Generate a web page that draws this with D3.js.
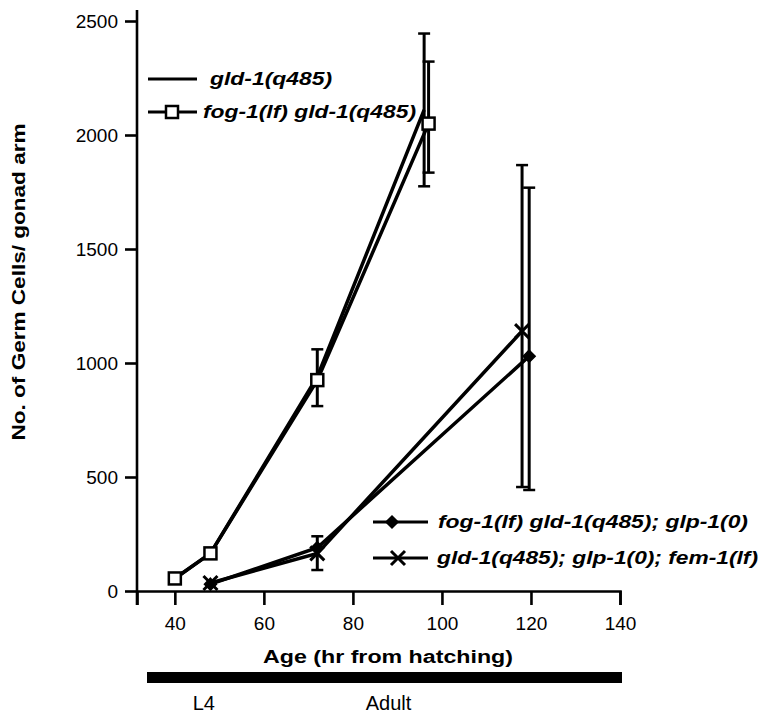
<!DOCTYPE html>
<html><head><meta charset="utf-8">
<script src="https://cdn.jsdelivr.net/npm/d3@7"></script>
<style>
body{margin:0;background:#fff;}
text{font-family:"Liberation Sans",Arial,Helvetica,sans-serif;fill:#000;}
</style></head>
<body><svg id="c" width="763" height="713"></svg>
<script>
// ---- data ----
const xTicks = [40,60,80,100,120,140];
const yTicks = [0,500,1000,1500,2000,2500];

const agesGld1 = [40,48,72,96];
const cellsGld1 = [55,165,940,2110];
const hiGld1 = [null,null,null,2445];
const loGld1 = [null,null,null,1775];

const agesFog = [40,48,72,97];
const cellsFog = [55,165,925,2050];
const hiFog = [null,null,1060,2322];
const loFog = [null,null,811,1835];

const agesFogGlp = [48,72,119.6];
const cellsFogGlp = [30,190,1030];
const hiFogGlp = [null,null,1769];
const loFogGlp = [null,null,443];

const agesFem = [48,72,118];
const cellsFem = [35,165,1140];
const hiFem = [null,240,1868];
const loFem = [null,92,456];

const seriesNames = ["gld-1(q485)","fog-1(lf) gld-1(q485)","fog-1(lf) gld-1(q485); glp-1(0)","gld-1(q485); glp-1(0); fem-1(lf)"];
const stageLabels = ["L4","Adult"];
const stageAges = [46.5,88];

const svg = d3.select("#c");
const x = d3.scaleLinear().domain([31.5,140]).range([137,620]);
const y = d3.scaleLinear().domain([0,2500]).range([591,21]);

// axes
const gx = svg.append("g").attr("transform","translate(0,591)")
  .call(d3.axisBottom(x).tickValues(xTicks).tickFormat(d3.format("d")).tickSizeInner(14).tickSizeOuter(14).tickPadding(6));
const gy = svg.append("g").attr("transform","translate(137,0)")
  .call(d3.axisLeft(y).tickValues(yTicks).tickFormat(d3.format("d")).tickSizeInner(12).tickSizeOuter(0).tickPadding(7));
gy.select(".domain").attr("d","M0,10V605");
[gx,gy].forEach(g=>{
  g.selectAll("path,line").attr("stroke","#000").attr("stroke-width",2.6);
  g.selectAll("text").attr("font-size",19).attr("fill","#000");
});
gx.selectAll(".tick text").attr("dy","1.0em");
gy.selectAll(".tick text").attr("dy","0.36em");

// axis titles
svg.append("text").attr("x",388).attr("y",663).attr("text-anchor","middle")
  .attr("font-size",18).attr("font-weight","bold")
  .attr("textLength",250).attr("lengthAdjust","spacingAndGlyphs").text("Age (hr from hatching)");
svg.append("text").attr("transform","translate(25,282) rotate(-90)").attr("text-anchor","middle")
  .attr("font-size",18).attr("font-weight","bold")
  .attr("textLength",317).attr("lengthAdjust","spacingAndGlyphs").text("No. of Germ Cells/ gonad arm");

// stage bar
svg.append("rect").attr("x",147).attr("y",672).attr("width",475).attr("height",11).attr("fill","#000");
svg.selectAll(".stage").data(stageLabels).enter().append("text")
  .attr("x",(d,i)=>x(stageAges[i])).attr("y",710).attr("text-anchor","middle").attr("font-size",20).text(d=>d);

const line = d3.line().x(d=>x(d[0])).y(d=>y(d[1]));
const allSeries = [
  {ages:agesGld1,cells:cellsGld1,hi:hiGld1,lo:loGld1,mark:"none"},
  {ages:agesFog,cells:cellsFog,hi:hiFog,lo:loFog,mark:"square"},
  {ages:agesFogGlp,cells:cellsFogGlp,hi:hiFogGlp,lo:loFogGlp,mark:"diamond"},
  {ages:agesFem,cells:cellsFem,hi:hiFem,lo:loFem,mark:"cross"}
];

function drawMarker(g,type,cx,cy){
  if(type==="square"){
    g.append("rect").attr("x",cx-6).attr("y",cy-6).attr("width",12).attr("height",12)
     .attr("fill","#fff").attr("stroke","#000").attr("stroke-width",2.5);
  } else if(type==="diamond"){
    g.append("path").attr("d",`M${cx},${cy-6}L${cx+6},${cy}L${cx},${cy+6}L${cx-6},${cy}Z`)
     .attr("fill","#000").attr("stroke","#000").attr("stroke-width",1.5);
  } else if(type==="cross"){
    g.append("path").attr("d",`M${cx-7},${cy-7}L${cx+7},${cy+7}M${cx-7},${cy+7}L${cx+7},${cy-7}`)
     .attr("stroke","#000").attr("stroke-width",3);
  }
}

allSeries.forEach(s=>{
  const pts = s.ages.map((a,i)=>[a,s.cells[i]]);
  const g = svg.append("g");
  s.ages.forEach((a,i)=>{
    if(s.hi[i]==null) return;
    const cx = x(a), y1 = y(s.hi[i]), y2 = y(s.lo[i]);
    g.append("line").attr("x1",cx).attr("x2",cx).attr("y1",y1).attr("y2",y2).attr("stroke","#000").attr("stroke-width",3);
    [y1,y2].forEach(yy=>g.append("line").attr("x1",cx-6).attr("x2",cx+6).attr("y1",yy).attr("y2",yy).attr("stroke","#000").attr("stroke-width",2.5));
  });
  g.append("path").datum(pts).attr("d",line).attr("fill","none").attr("stroke","#000").attr("stroke-width",3.5);
  pts.forEach(p=>drawMarker(g,s.mark,x(p[0]),y(p[1])));
});

// legends
const legendRows = [
  {x1:148,x2:197,ly:79,mx:172,tx:210,tl:122,name:seriesNames[0],mark:"none"},
  {x1:148,x2:197,ly:112,mx:172,tx:203,tl:213,name:seriesNames[1],mark:"square"},
  {x1:373,x2:428,ly:522,mx:392,tx:438,tl:310,name:seriesNames[2],mark:"diamond"},
  {x1:373,x2:428,ly:558,mx:398,tx:437,tl:321,name:seriesNames[3],mark:"cross"}
];
legendRows.forEach(r=>{
  const g = svg.append("g");
  g.append("line").attr("x1",r.x1).attr("x2",r.x2).attr("y1",r.ly).attr("y2",r.ly).attr("stroke","#000").attr("stroke-width",3);
  drawMarker(g,r.mark,r.mx,r.ly);
  g.append("text").attr("x",r.tx).attr("y",r.ly).attr("dy","0.36em").attr("font-size",18)
   .attr("font-style","italic").attr("font-weight","bold")
   .attr("textLength",r.tl).attr("lengthAdjust","spacingAndGlyphs").text(r.name);
});
</script></body></html>
